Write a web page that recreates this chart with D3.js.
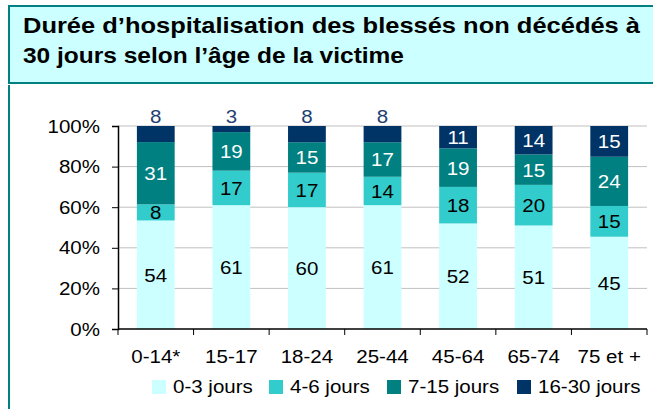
<!DOCTYPE html>
<html>
<head>
<meta charset="utf-8">
<script src="https://cdn.jsdelivr.net/npm/d3@7"></script>
<style>
  body { margin: 0; background: #fff; }
  text { font-family: "Liberation Sans", Arial, sans-serif; }
</style>
</head>
<body>
<div id="chart"></div>
<script>
// data
const categories = ["0-14*", "15-17", "18-24", "25-44", "45-64", "65-74", "75 et +"];
const seriesNames = ["0-3 jours", "4-6 jours", "7-15 jours", "16-30 jours"];
const days0_3 = [54, 61, 60, 61, 52, 51, 45];
const days4_6 = [8, 17, 17, 14, 18, 20, 15];
const days7_15 = [31, 19, 15, 17, 19, 15, 24];
const days16_30 = [8, 3, 8, 8, 11, 14, 15];
const yTicks = [0, 0.2, 0.4, 0.6, 0.8, 1];

const colors = ["#ccffff", "#33cccc", "#008080", "#003366"];
const labelColors = ["#000", "#000", "#fff", "#fff"];

var W = 653, H = 409;
var margin = { top: 126, right: 6, bottom: 80, left: 118 };
var width = W - margin.left - margin.right,
  height = H - margin.top - margin.bottom;
var sx = 1.08; // the original text is a bit wider than Arial

var svg = d3.select("#chart").append("svg").attr("width", W).attr("height", H);

// title box
svg.append("rect")
  .attr("x", 9).attr("y", 6).attr("width", W).attr("height", 77)
  .attr("fill", "#ccffff").attr("stroke", "#008080").attr("stroke-width", 2);
var title = svg.append("text")
  .attr("font-size", 22).attr("font-weight", "bold").attr("fill", "#000");
title.append("tspan").attr("x", 23).attr("y", 33)
  .attr("textLength", 617).attr("lengthAdjust", "spacingAndGlyphs")
  .text("Durée d\u2019hospitalisation des blessés non décédés à");
title.append("tspan").attr("x", 23).attr("y", 63)
  .attr("textLength", 381).attr("lengthAdjust", "spacingAndGlyphs")
  .text("30 jours selon l\u2019âge de la victime");

// left rule
svg.append("line")
  .attr("x1", 9).attr("x2", 9).attr("y1", 85).attr("y2", H)
  .attr("stroke", "#008080").attr("stroke-width", 2);

var data = categories.map(function (c, i) {
  return { cat: c, s0: days0_3[i], s1: days4_6[i], s2: days7_15[i], s3: days16_30[i] };
});

var stack = d3.stack()
  .keys(["s0", "s1", "s2", "s3"])
  .offset(d3.stackOffsetExpand);
var layers = stack(data);

var x = d3.scaleBand()
  .domain(categories)
  .range([0, width])
  .paddingInner(0.5)
  .paddingOuter(0.25);

var y = d3.scaleLinear().domain([0, 1]).range([height, 0]);

var g = svg.append("g")
  .attr("transform", "translate(" + margin.left + "," + margin.top + ")");

// gridlines
g.append("g")
  .selectAll("line")
  .data(yTicks.slice(1))
  .enter()
  .append("line")
  .attr("x1", 0).attr("x2", width)
  .attr("y1", function (d) { return y(d); })
  .attr("y2", function (d) { return y(d); })
  .attr("stroke", "#c0c0c0").attr("stroke-width", 1);

// bars
var layer = g.append("g")
  .selectAll("g")
  .data(layers)
  .enter()
  .append("g")
  .attr("fill", function (d, i) { return colors[i]; });

layer.selectAll("rect")
  .data(function (d) { return d; })
  .enter()
  .append("rect")
  .attr("x", function (d) { return x(d.data.cat); })
  .attr("width", x.bandwidth())
  .attr("y", function (d) { return y(d[1]); })
  .attr("height", function (d) { return y(d[0]) - y(d[1]); });

// value labels
layers.forEach(function (L, li) {
  g.append("g")
    .selectAll("text")
    .data(L)
    .enter()
    .append("text")
    .attr("text-anchor", "middle")
    .attr("font-size", 19)
    .attr("transform", function (d) {
      var v = d.data[L.key];
      var tx = x(d.data.cat) + x.bandwidth() / 2;
      var ty = (li === 3 && v < 10) ? y(1) - 3 : (y(d[0]) + y(d[1])) / 2 + 7;
      return "translate(" + tx + "," + ty + ") scale(" + sx + ",1)";
    })
    .attr("fill", function (d) {
      var v = d.data[L.key];
      if (li === 3 && v < 10) return "#1f3f73";
      return labelColors[li];
    })
    .text(function (d) { return d.data[L.key]; });
});

// axes
var yAxis = g.append("g")
  .call(d3.axisLeft(y).tickValues(yTicks).tickFormat(d3.format(".0%")).tickSize(6).tickPadding(12));
var xAxis = g.append("g")
  .attr("transform", "translate(0," + height + ")")
  .call(d3.axisBottom(x).tickSize(0).tickPadding(21));

[yAxis, xAxis].forEach(function (a) {
  a.select(".domain").attr("stroke", "#000").attr("stroke-width", 1.5);
  a.selectAll("text").attr("font-size", 19).attr("fill", "#000")
    .style("font-family", "'Liberation Sans', Arial, sans-serif");
  a.selectAll(".tick line").attr("stroke", "#000");
});
xAxis.select(".domain").attr("d", "M0,0H" + width);
yAxis.selectAll(".tick text")
  .attr("transform", "translate(-18,0) scale(" + sx + ",1)")
  .attr("x", 0);
xAxis.selectAll(".tick text").attr("transform", "scale(" + sx + ",1)");

// category boundary ticks on x axis
g.append("g")
  .selectAll("line")
  .data(d3.range(categories.length + 1))
  .enter()
  .append("line")
  .attr("x1", function (i) { return i * x.step(); })
  .attr("x2", function (i) { return i * x.step(); })
  .attr("y1", height).attr("y2", height + 6)
  .attr("stroke", "#000");

// legend
var legendX = [152, 269, 387, 517];
var legend = svg.append("g")
  .selectAll("g")
  .data(seriesNames)
  .enter()
  .append("g")
  .attr("transform", function (d, i) { return "translate(" + legendX[i] + ",380)"; });
legend.append("rect")
  .attr("width", 14).attr("height", 14)
  .attr("fill", function (d, i) { return colors[i]; });
legend.append("text")
  .attr("transform", "translate(21,13) scale(" + sx + ",1)")
  .attr("font-size", 19)
  .text(function (d) { return d; });
</script>
</body>
</html>
